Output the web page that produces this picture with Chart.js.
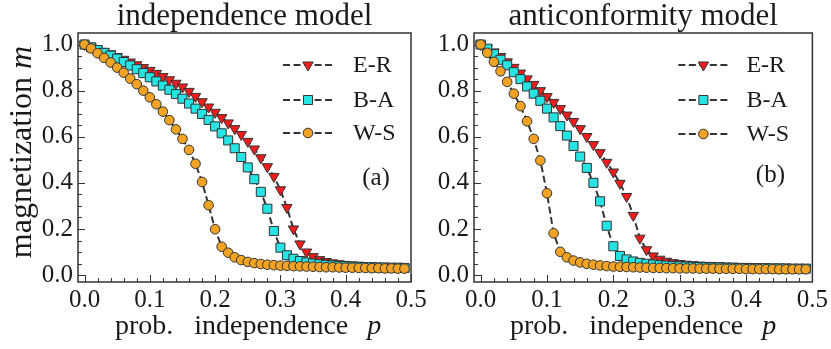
<!DOCTYPE html>
<html>
<head>
<meta charset="utf-8">
<script src="https://cdn.jsdelivr.net/npm/chart.js@4/dist/chart.umd.min.js"></script>
<style>
  html, body { margin: 0; padding: 0; background: #ffffff; }
  #wrap { position: relative; width: 831px; height: 349px; }
  #wrap canvas { position: absolute; left: 0; top: 0; }
</style>
</head>
<body>
<div id="wrap">
  <canvas id="chart-a" width="831" height="349"></canvas>
  <canvas id="chart-b" width="831" height="349"></canvas>
</div>
<script>
  // probability p (x values shared by every series)
  const pValues = [0.00, 0.01, 0.02, 0.03, 0.04, 0.05, 0.06, 0.07, 0.08, 0.09,
    0.10, 0.11, 0.12, 0.13, 0.14, 0.15, 0.16, 0.17, 0.18, 0.19,
    0.20, 0.21, 0.22, 0.23, 0.24, 0.25, 0.26, 0.27, 0.28, 0.29,
    0.30, 0.31, 0.32, 0.33, 0.34, 0.35, 0.36, 0.37, 0.38, 0.39,
    0.40, 0.41, 0.42, 0.43, 0.44, 0.45, 0.46, 0.47, 0.48, 0.49];

  const seriesNames = ["E-R", "B-A", "W-S"];

  // (a) independence model
  const indER = [1.000, 0.990, 0.980, 0.970, 0.960, 0.948, 0.936, 0.924, 0.912, 0.900,
    0.888, 0.875, 0.861, 0.847, 0.832, 0.816, 0.797, 0.775, 0.752, 0.729,
    0.706, 0.683, 0.660, 0.635, 0.610, 0.580, 0.547, 0.509, 0.470, 0.428,
    0.370, 0.293, 0.200, 0.135, 0.100, 0.080, 0.067, 0.059, 0.053, 0.049,
    0.046, 0.044, 0.042, 0.040, 0.039, 0.038, 0.037, 0.036, 0.035, 0.034];
  const indBA = [1.000, 0.988, 0.976, 0.964, 0.952, 0.939, 0.924, 0.909, 0.893, 0.876,
    0.858, 0.840, 0.822, 0.804, 0.785, 0.765, 0.744, 0.722, 0.699, 0.673,
    0.645, 0.615, 0.584, 0.550, 0.512, 0.467, 0.416, 0.361, 0.288, 0.191,
    0.119, 0.086, 0.071, 0.061, 0.055, 0.050, 0.047, 0.044, 0.042, 0.040,
    0.038, 0.037, 0.036, 0.035, 0.034, 0.033, 0.033, 0.032, 0.032, 0.031];
  const indWS = [1.000, 0.983, 0.962, 0.942, 0.922, 0.900, 0.878, 0.852, 0.828, 0.800,
    0.771, 0.741, 0.709, 0.672, 0.632, 0.591, 0.543, 0.483, 0.404, 0.303,
    0.199, 0.123, 0.097, 0.077, 0.065, 0.057, 0.052, 0.048, 0.045, 0.043,
    0.041, 0.040, 0.039, 0.038, 0.037, 0.036, 0.035, 0.034, 0.034, 0.033,
    0.032, 0.032, 0.031, 0.031, 0.030, 0.030, 0.029, 0.029, 0.028, 0.028];

  // (b) anticonformity model
  const antiER = [1.000, 0.985, 0.968, 0.948, 0.925, 0.901, 0.876, 0.851, 0.827, 0.800,
    0.774, 0.749, 0.722, 0.694, 0.666, 0.635, 0.601, 0.566, 0.531, 0.489,
    0.447, 0.398, 0.341, 0.259, 0.160, 0.110, 0.083, 0.069, 0.060, 0.054,
    0.050, 0.047, 0.045, 0.043, 0.042, 0.041, 0.040, 0.039, 0.038, 0.037,
    0.036, 0.036, 0.035, 0.035, 0.034, 0.034, 0.033, 0.033, 0.032, 0.032];
  const antiBA = [1.000, 0.982, 0.958, 0.934, 0.910, 0.880, 0.850, 0.818, 0.787, 0.756,
    0.722, 0.684, 0.646, 0.605, 0.560, 0.514, 0.465, 0.400, 0.320, 0.214,
    0.125, 0.083, 0.068, 0.059, 0.053, 0.049, 0.046, 0.043, 0.041, 0.039,
    0.038, 0.037, 0.036, 0.035, 0.034, 0.033, 0.033, 0.032, 0.032, 0.031,
    0.031, 0.030, 0.030, 0.030, 0.029, 0.029, 0.029, 0.028, 0.028, 0.028];
  const antiWS = [1.000, 0.964, 0.925, 0.884, 0.838, 0.787, 0.733, 0.667, 0.591, 0.497,
    0.355, 0.181, 0.101, 0.077, 0.063, 0.055, 0.049, 0.045, 0.042, 0.039,
    0.037, 0.036, 0.035, 0.034, 0.033, 0.032, 0.031, 0.031, 0.030, 0.030,
    0.029, 0.029, 0.029, 0.028, 0.028, 0.028, 0.027, 0.027, 0.027, 0.027,
    0.026, 0.026, 0.026, 0.026, 0.026, 0.025, 0.025, 0.025, 0.025, 0.025];

  // tick positions
  const xTicks = [0.0, 0.1, 0.2, 0.3, 0.4, 0.5];
  const xMinorTicks = [0.02, 0.04, 0.06, 0.08, 0.12, 0.14, 0.16, 0.18, 0.22, 0.24, 0.26, 0.28,
    0.32, 0.34, 0.36, 0.38, 0.42, 0.44, 0.46, 0.48];
  const yTicks = [0.0, 0.2, 0.4, 0.6, 0.8, 1.0];
  const yMinorTicks = [0.05, 0.1, 0.15, 0.25, 0.3, 0.35, 0.45, 0.5, 0.55, 0.65, 0.7, 0.75,
    0.85, 0.9, 0.95];

  const SERIF = "'Liberation Serif', 'DejaVu Serif', serif";
  const INK = "#1a1a1a";
  const EDGE = "#333333";

  // marker look for E-R, B-A, W-S
  const markerLook = [
    { shape: "triangle", rotation: 180, radius: 6, fill: "#f21c1c", order: 3 },
    { shape: "rect", rotation: 0, radius: 6.4, fill: "#26e4e4", order: 2 },
    { shape: "circle", rotation: 0, radius: 4.8, fill: "#f2a324", order: 1 },
  ];

  const makeDataset = (name, values, look) => ({
    label: name,
    data: pValues.map((p, i) => ({ x: p, y: values[i] })),
    borderColor: EDGE,
    borderWidth: 2,
    borderDash: [7, 3.5],
    tension: 0,
    pointStyle: look.shape,
    pointRotation: look.rotation,
    pointRadius: look.radius,
    pointBackgroundColor: look.fill,
    pointBorderColor: EDGE,
    pointBorderWidth: 1,
    order: look.order,
  });

  // inward ticks + box frame
  const frameTicks = {
    id: "frameTicks",
    beforeDatasetsDraw(chart) {
      const { ctx, chartArea: a, scales } = chart;
      ctx.save();
      ctx.strokeStyle = EDGE;
      ctx.lineWidth = 1;
      const mark = (x0, y0, x1, y1) => {
        ctx.beginPath();
        ctx.moveTo(x0, y0);
        ctx.lineTo(x1, y1);
        ctx.stroke();
      };
      xMinorTicks.forEach((v) => {
        const px = Math.round(scales.x.getPixelForValue(v)) + 0.5;
        mark(px, a.bottom, px, a.bottom - 4);
      });
      xTicks.forEach((v) => {
        const px = Math.round(scales.x.getPixelForValue(v)) + 0.5;
        mark(px, a.bottom, px, a.bottom - 7);
      });
      yMinorTicks.forEach((v) => {
        const py = Math.round(scales.y.getPixelForValue(v)) + 0.5;
        mark(a.left, py, a.left + 4, py);
      });
      yTicks.forEach((v) => {
        const py = Math.round(scales.y.getPixelForValue(v)) + 0.5;
        mark(a.left, py, a.left + 7, py);
      });
      ctx.restore();
    },
    afterDatasetsDraw(chart) {
      const { ctx, chartArea: a } = chart;
      ctx.save();
      ctx.strokeStyle = EDGE;
      ctx.lineWidth = 1.5;
      ctx.strokeRect(a.left, a.top, a.right - a.left, a.bottom - a.top);
      ctx.restore();
    },
  };

  // legend drawn inside the plot, top right
  const insideLegend = {
    id: "insideLegend",
    afterDatasetsDraw(chart, args, opts) {
      const { ctx, chartArea: a } = chart;
      const x1 = a.right - opts.lineEnd;
      const x0 = x1 - 50;
      chart.data.datasets.forEach((ds, i) => {
        const y = a.top + opts.rows[i];
        ctx.save();
        ctx.strokeStyle = ds.borderColor;
        ctx.lineWidth = ds.borderWidth;
        ctx.setLineDash(ds.borderDash);
        ctx.beginPath();
        ctx.moveTo(x0, y);
        ctx.lineTo(x1, y);
        ctx.stroke();
        ctx.setLineDash([]);
        ctx.fillStyle = ds.pointBackgroundColor;
        ctx.strokeStyle = ds.pointBorderColor;
        ctx.lineWidth = ds.pointBorderWidth;
        Chart.helpers.drawPoint(ctx, {
          pointStyle: ds.pointStyle,
          rotation: ds.pointRotation,
          radius: ds.pointRadius,
          borderWidth: ds.pointBorderWidth,
        }, (x0 + x1) / 2, y);
        ctx.fillStyle = INK;
        ctx.font = "24px " + SERIF;
        ctx.textAlign = "left";
        ctx.textBaseline = "middle";
        ctx.fillText(ds.label, x1 + opts.textGap, y + 1);
        ctx.restore();
      });
    },
  };

  // axis titles with an italic variable, and the panel tag
  const axisLabels = {
    id: "axisLabels",
    afterDraw(chart, args, opts) {
      const { ctx, chartArea: a } = chart;
      const plainFont = (size) => size + "px " + SERIF;
      const italFont = (size) => "italic " + size + "px " + SERIF;
      ctx.save();
      ctx.fillStyle = INK;
      ctx.textAlign = "left";
      ctx.textBaseline = "alphabetic";

      // x title: "prob.  independence  p"
      const xText = "prob.   independence   ";
      ctx.font = plainFont(28);
      const xw = ctx.measureText(xText).width;
      const xs = a.left + opts.xStart;
      ctx.fillText(xText, xs, opts.xBaseline);
      ctx.font = italFont(28);
      ctx.fillText("p", xs + xw - 2, opts.xBaseline);

      // y title (left panel only), centred on the plot height
      if (opts.yText) {
        ctx.save();
        ctx.translate(opts.yBaseline, opts.yCenter);
        ctx.rotate(-Math.PI / 2);
        ctx.font = plainFont(32);
        const w1 = ctx.measureText(opts.yText).width;
        ctx.font = italFont(32);
        const w2 = ctx.measureText(opts.yVar).width;
        const start = -(w1 + w2) / 2;
        ctx.font = plainFont(32);
        ctx.fillText(opts.yText, start, 0);
        ctx.font = italFont(32);
        ctx.fillText(opts.yVar, start + w1, 0);
        ctx.restore();
      }

      ctx.font = plainFont(25);
      ctx.textAlign = "center";
      ctx.textBaseline = "middle";
      ctx.fillText(opts.tag, a.right - opts.tagRight, a.top + opts.tagTop);
      ctx.restore();
    },
  };

  const makeChart = (canvasId, title, values, panel) => {
    const ctx = document.getElementById(canvasId).getContext("2d");
    return new Chart(ctx, {
      type: "line",
      data: {
        datasets: seriesNames.map((name, i) => makeDataset(name, values[i], markerLook[i])),
      },
      options: {
        responsive: false,
        animation: false,
        layout: { padding: panel.padding },
        plugins: {
          legend: { display: false },
          tooltip: { enabled: false },
          title: {
            display: true,
            text: title,
            fullSize: false,
            color: INK,
            font: { family: SERIF, size: 31, weight: "normal", lineHeight: 1.0 },
            padding: { top: 1, bottom: 1 },
          },
          insideLegend: panel.legend,
          axisLabels: panel.labels,
        },
        scales: {
          x: {
            type: "linear",
            min: -0.01,
            max: 0.5,
            afterFit: (s) => { s.height = 67; },
            afterBuildTicks: (s) => { s.ticks = xTicks.map((v) => ({ value: v })); },
            grid: { display: false, drawTicks: false },
            border: { display: false },
            ticks: {
              autoSkip: false,
              maxRotation: 0,
              padding: 3,
              color: INK,
              font: { family: SERIF, size: 25 },
              callback: (v) => Number(v).toFixed(1),
            },
          },
          y: {
            min: -0.03,
            max: 1.05,
            afterFit: (s) => { s.width = panel.yWidth; },
            afterBuildTicks: (s) => { s.ticks = yTicks.map((v) => ({ value: v })); },
            grid: { display: false, drawTicks: false },
            border: { display: false },
            ticks: {
              autoSkip: false,
              padding: 5,
              color: INK,
              font: { family: SERIF, size: 25 },
              callback: (v) => Number(v).toFixed(1),
            },
          },
        },
      },
      plugins: [frameTicks, insideLegend, axisLabels],
    });
  };

  const initPanels = () => {
    makeChart("chart-a", "independence model", [indER, indBA, indWS], {
      padding: { left: 0, right: 420, top: 0, bottom: 0 },
      yWidth: 78,
      legend: { lineEnd: 78, textGap: 20, rows: [32, 67, 100] },
      labels: { xStart: 37, xBaseline: 334, yText: "magnetization ", yVar: "m", yBaseline: 31, yCenter: 152,
        tag: "(a)", tagRight: 35, tagTop: 145 },
    });
    makeChart("chart-b", "anticonformity model", [antiER, antiBA, antiWS], {
      padding: { left: 415, right: 17, top: 0, bottom: 0 },
      yWidth: 59,
      legend: { lineEnd: 84, textGap: 18, rows: [32, 67, 101] },
      labels: { xStart: 36, xBaseline: 334, yText: "", yVar: "", tag: "(b)", tagRight: 42, tagTop: 142 },
    });
  };

  document.addEventListener("DOMContentLoaded", initPanels);
</script>
</body>
</html>
